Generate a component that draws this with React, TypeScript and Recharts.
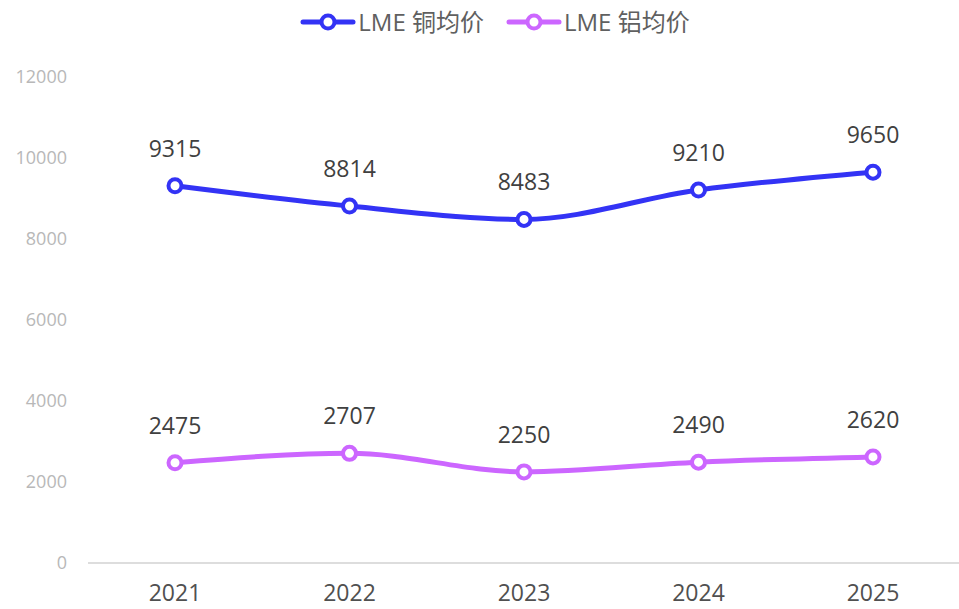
import { LineChart, Line, XAxis, YAxis, LabelList } from "recharts";

const years = ["2021", "2022", "2023", "2024", "2025"];
const copper = [9315, 8814, 8483, 9210, 9650];
const aluminium = [2475, 2707, 2250, 2490, 2620];
const yTicks = [0, 2000, 4000, 6000, 8000, 10000, 12000];

const COPPER = "#3333f5";
const ALU = "#cc66ff";
const FONT = "'Open Sans', 'Noto Sans CJK SC', sans-serif";

const series = [
  { key: "copper", name: "LME 铜均价", color: COPPER },
  { key: "aluminium", name: "LME 铝均价", color: ALU },
];

const data = years.map((year, i) => ({ year, copper: copper[i], aluminium: aluminium[i] }));

const LegendIcon = ({ color }: { color: string }) => (
  <svg width={56} height={20} style={{ display: "block" }}>
    <line x1={3} y1={10} x2={53} y2={10} stroke={color} strokeWidth={5} strokeLinecap="round" />
    <circle cx={28} cy={10} r={6.5} fill="#fff" stroke={color} strokeWidth={4} />
  </svg>
);

const App = () => {
  return (
    <div style={{ position: "absolute", left: 0, top: 0, width: 959, height: 609, fontFamily: FONT }}>
      <div
        style={{
          position: "absolute",
          top: 7,
          left: 0,
          width: 990,
          display: "flex",
          justifyContent: "center",
          gap: 22,
          fontSize: 24,
          color: "#606060",
          lineHeight: "30px",
        }}
      >
        {series.map((s) => (
          <div key={s.key} style={{ display: "flex", alignItems: "center", gap: 2 }}>
            <LegendIcon color={s.color} />
            <span>{s.name}</span>
          </div>
        ))}
      </div>
      <LineChart width={959} height={609} data={data} margin={{ top: 77, right: 0, left: 0, bottom: 0 }}>
        <XAxis
          dataKey="year"
          height={46}
          padding={{ left: 87, right: 86 }}
          tickLine={false}
          tickSize={0}
          tickMargin={22}
          stroke="#dddddd"
          strokeWidth={2}
          tick={{ fontSize: 23, fill: "#505050", fontFamily: FONT }}
        />
        <YAxis
          width={88}
          domain={[0, 12000]}
          ticks={yTicks}
          axisLine={false}
          tickLine={false}
          tickSize={0}
          tickMargin={21}
          tick={{ fontSize: 18, fill: "#b8b8b8", fontFamily: FONT }}
        />
        {series.map((s) => (
          <Line
            key={s.key}
            type="monotone"
            dataKey={s.key}
            name={s.name}
            stroke={s.color}
            strokeWidth={5}
            dot={{ r: 6.5, fill: "#fff", stroke: s.color, strokeWidth: 4 }}
            activeDot={false}
            isAnimationActive={false}
          >
            <LabelList
              dataKey={s.key}
              position="top"
              offset={29}
              style={{ fontSize: 23, fill: "#404040", fontFamily: FONT }}
            />
          </Line>
        ))}
      </LineChart>
    </div>
  );
};

export default App;
